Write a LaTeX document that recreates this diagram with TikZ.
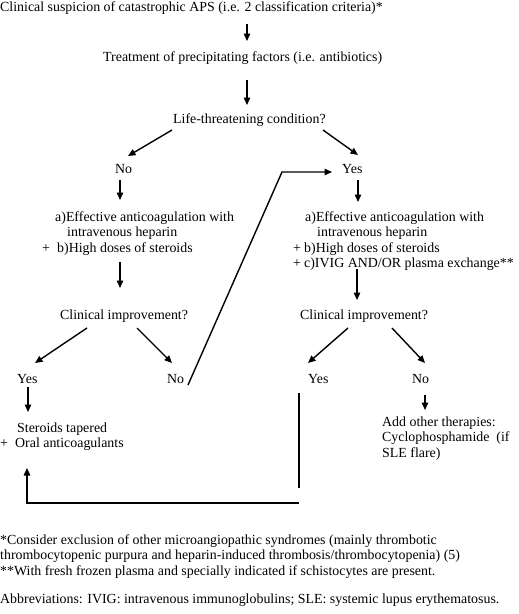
\documentclass[tikz,border=0pt]{standalone}
\usepackage{fontspec}
\setmainfont{Liberation Serif}
\usetikzlibrary{arrows.meta,calc}
\begin{document}
\begin{tikzpicture}[x=1pt,y=-1pt,
  txt/.style={inner sep=0pt, font=\fontsize{13.9}{15.5}\selectfont},
  blk/.style={txt, align=left, anchor=north west},
  lbl/.style={txt, anchor=base west},
  ln/.style={line width=1.4pt},
  arr/.style={line width=1.4pt, -{Triangle[length=7.5pt,width=6.5pt]}}]
\useasboundingbox (0,0) rectangle (519,614);
% nodes
\node[lbl] (title) at (0,11) {Clinical suspicion of catastrophic APS (i.e. 2 classification criteria)*};
\node[lbl] (treat) at (103,61) {Treatment of precipitating factors (i.e. antibiotics)};
\node[lbl] (life) at (173,123) {Life-threatening condition?};
\node[lbl] (noA) at (115,173) {No};
\node[lbl] (yesA) at (342,173) {Yes};
\node[blk] (boxL) at (42,210.15) {\strut\hspace*{13pt}a)Effective anticoagulation with\\\hspace*{25pt}intravenous heparin\\\makebox[15pt][l]{+}b)High doses of steroids};
\node[blk] (boxR) at (293,210.15) {\strut\hspace*{12pt}a)Effective anticoagulation with\\\hspace*{24pt}intravenous heparin\\\makebox[11pt][l]{+}b)High doses of steroids\\\makebox[11pt][l]{+}c)IVIG AND/OR plasma exchange**};
\node[lbl] (clinL) at (60,319) {Clinical improvement?};
\node[lbl] (clinR) at (300,319) {Clinical improvement?};
\node[lbl] (yesB) at (17,383) {Yes};
\node[lbl] (noB) at (167,383) {No};
\node[lbl] (yesC) at (308,383) {Yes};
\node[lbl] (noC) at (412,383) {No};
\node[blk] (ster) at (0,421.15) {\strut\hspace*{17pt}Steroids tapered\\\makebox[15pt][l]{+}Oral anticoagulants};
\node[blk] (add) at (382,415.15) {\strut Add other therapies:\\Cyclophosphamide~~(if\\SLE flare)};
\node[blk] (fn) at (0,533.15) {\strut *Consider exclusion of other microangiopathic syndromes (mainly thrombotic\\thrombocytopenic purpura and heparin-induced thrombosis/thrombocytopenia) (5)\\**With fresh frozen plasma and specially indicated if schistocytes are present.};
\node[lbl] (abbr) at (0,603) {Abbreviations: IVIG: intravenous immunoglobulins; SLE: systemic lupus erythematosus.};
\coordinate (gapA) at ($(yesC.base west)+(-9,105)$);
\coordinate (gapB) at ($(yesC.base west)+(-9,120)$);
% connectors
\draw[arr] ($(title.base west)+(247,13)$) -- ($(treat.base west)+(144,-20)$);
\draw[arr] ($(treat.base west)+(144,19)$) -- ($(life.base west)+(74,-18)$);
\draw[arr] ($(life.base west)+(-1,7)$) -- ($(noA.base west)+(13,-17)$);
\draw[arr] ($(life.base west)+(150,7)$) -- ($(yesA.base west)+(16,-18)$);
\draw[arr] ($(noA.base west)+(5,7)$) -- ($(boxL.north west)+(78,-10.15)$);
\draw[arr] ($(boxL.north west)+(78,51.85)$) -- ($(clinL.base west)+(60,-31)$);
\draw[arr] ($(clinL.base west)+(27,9)$) -- ($(yesB.base west)+(18,-20)$);
\draw[arr] ($(clinL.base west)+(77,9)$) -- ($(noB.base west)+(5,-20)$);
\draw[arr] ($(yesB.base west)+(11,4)$) -- ($(ster.north west)+(28,-9.15)$);
\draw[arr] ($(noB.base west)+(21,2)$) -- ($(yesA.base west)+(-60,-1)$) -- ($(yesA.base west)+(-10,-1)$);
\draw[arr] ($(yesA.base west)+(16,7)$) -- ($(boxR.north west)+(65,-8.15)$);
\draw[arr] ($(boxR.north west)+(64,58.85)$) -- ($(clinR.base west)+(57,-19)$);
\draw[arr] ($(clinR.base west)+(48,9)$) -- ($(yesC.base west)+(0,-20)$);
\draw[arr] ($(clinR.base west)+(92,9)$) -- ($(noC.base west)+(13,-20)$);
\draw[arr] ($(noC.base west)+(13,12)$) -- ($(add.north west)+(43,-5.15)$);
\draw[ln] ($(yesC.base west)+(-9,10)$) -- (gapA);
\draw[arr] (gapB) -| ($(ster.north west)+(27,46.85)$);
\end{tikzpicture}
\end{document}
